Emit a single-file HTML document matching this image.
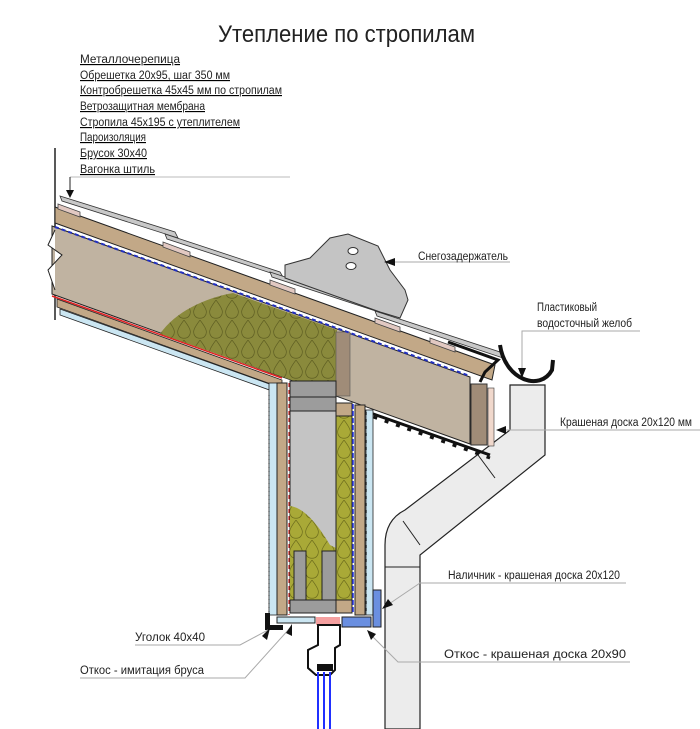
<!DOCTYPE html>
<html><head><meta charset="utf-8"><style>
html,body{margin:0;padding:0;background:#fff}
svg{display:block}
text{font-family:"Liberation Sans",sans-serif;fill:#222}
.l{font-size:11.5px}
</style></head><body>
<svg width="700" height="729" viewBox="0 0 700 729" xmlns="http://www.w3.org/2000/svg">
<defs>
<pattern id="wool" width="16" height="20" patternUnits="userSpaceOnUse">
<rect width="16" height="20" fill="#8a8a3c"/>
<path d="M8 0 C2 8 0 12 3 16 C5 19 11 19 13 16 C16 12 14 8 8 0" fill="none" stroke="#5e5e22" stroke-width="0.7"/>
</pattern>
<pattern id="wool2" width="16" height="20" patternUnits="userSpaceOnUse">
<rect width="16" height="20" fill="#a9a937"/>
<path d="M8 0 C2 8 0 12 3 16 C5 19 11 19 13 16 C16 12 14 8 8 0" fill="none" stroke="#6d6d1c" stroke-width="0.7"/>
</pattern>
</defs>

<text x="218" y="42" style="font-size:24px" textLength="257" lengthAdjust="spacingAndGlyphs">Утепление по стропилам</text>
<g class="l" text-decoration="underline">
<text x="80" y="63" textLength="100" lengthAdjust="spacingAndGlyphs">Металлочерепица</text>
<text x="80" y="79" textLength="150" lengthAdjust="spacingAndGlyphs">Обрешетка 20х95, шаг 350 мм</text>
<text x="80" y="94" textLength="202" lengthAdjust="spacingAndGlyphs">Контробрешетка 45х45 мм по стропилам</text>
<text x="80" y="110" textLength="125" lengthAdjust="spacingAndGlyphs">Ветрозащитная мембрана</text>
<text x="80" y="126" textLength="160" lengthAdjust="spacingAndGlyphs">Стропила 45х195 с утеплителем</text>
<text x="80" y="141" textLength="66" lengthAdjust="spacingAndGlyphs">Пароизоляция</text>
<text x="80" y="157" textLength="67" lengthAdjust="spacingAndGlyphs">Брусок 30х40</text>
<text x="80" y="173" textLength="75" lengthAdjust="spacingAndGlyphs">Вагонка штиль</text>
</g>
<line x1="70" y1="177" x2="290" y2="177" stroke="#bbb" stroke-width="1"/>
<polyline points="70,177 70,195" fill="none" stroke="#222"/>
<polygon points="66,190 74,190 70,198" fill="#111"/>
<line x1="55" y1="148" x2="55" y2="320" stroke="#222" stroke-width="1.5"/>

<path d="M510,385 L545,385 L545,455 L420,555 L420,729 L385,729 L385,545 Q385,520 405,510 L510,430 Z" fill="#ececec" stroke="#222" stroke-width="1.2"/>
<line x1="510" y1="430" x2="545" y2="430" stroke="#222"/>
<line x1="478" y1="455" x2="495" y2="478" stroke="#222"/>
<line x1="385" y1="567" x2="420" y2="567" stroke="#222"/>
<line x1="403" y1="521" x2="420" y2="545" stroke="#222"/>

<polygon points="52,226 470,377 470,444 280,376 52,294" fill="#c0b3a1" stroke="#222" stroke-width="1"/>
<path d="M160,334 C175,312 205,298 233,293 L337,330 L337,396 L280,376 Z" fill="url(#wool)"/>
<rect x="336" y="332" width="14" height="64" fill="#a08c78" stroke="#555" stroke-width="0.6"/>
<polyline points="55,230 48,245 62,255 48,270 55,290" fill="#fff" stroke="#222"/>
<line x1="55" y1="227" x2="470" y2="376" stroke="#2230c0" stroke-width="2" stroke-dasharray="4,3"/>
<polygon points="55,207 495,365 492,380 55,223" fill="#c2a887" stroke="#222"/>
<g fill="#e2c9c2" stroke="#444" stroke-width="0.8">
<polygon points="58,204 80,212 80,217 58,209"/>
<polygon points="163,242 190,252 190,257 163,247"/>
<polygon points="270,280 295,289 295,294 270,285"/>
<polygon points="375,318 400,327 400,332 375,323"/>
<polygon points="430,338 455,347 455,352 430,343"/>
</g>
<g fill="#c8c8c8" stroke="#333" stroke-width="0.8">
<polygon points="60,196 175,232 178,238 62,201"/>
<polygon points="165,234 280,272 283,277 167,239"/>
<polygon points="270,272 385,310 388,315 272,277"/>
<polygon points="375,311 500,352 503,358 377,316"/>
</g>
<path d="M448,342 L498,360 L485,372 L480,382" fill="none" stroke="#111" stroke-width="3"/>
<path d="M285,265 L310,258 L330,238 L348,234 L378,246 L390,270 L405,290 L408,300 L400,318 L380,312 L285,278 Z" fill="#c4c4c4" stroke="#333" stroke-width="1"/>
<ellipse cx="353" cy="251" rx="5" ry="3.5" fill="#fff" stroke="#333"/>
<ellipse cx="351" cy="266" rx="5" ry="3.5" fill="#fff" stroke="#333"/>
<rect x="471" y="384" width="16" height="61" fill="#a08c78" stroke="#333"/>
<rect x="488" y="388" width="6" height="58" fill="#f0d8cc" stroke="#333" stroke-width="0.6"/>
<path d="M362,410 L490,455" stroke="#111" stroke-width="3"/>
<path d="M362,413 L490,458" stroke="#111" stroke-width="3" stroke-dasharray="4,8"/>
<path d="M500,345 C505,380 540,392 552,370 L553,360" fill="none" stroke="#111" stroke-width="4"/>

<line x1="52" y1="296" x2="282" y2="378" stroke="#e02020" stroke-width="1.5"/>
<polygon points="57,299 282,380 282,388 57,307" fill="#c2a887" stroke="#222" stroke-width="0.8"/>
<polygon points="60,309 275,386 275,392 60,315" fill="#cbe6f2" stroke="#222" stroke-width="0.8"/>

<rect x="269" y="383" width="8" height="232" fill="#cbe6f2" stroke="#222" stroke-width="0.8"/>
<rect x="277" y="383" width="10" height="232" fill="#c2a887" stroke="#222"/>
<line x1="289" y1="383" x2="289" y2="615" stroke="#d02020" stroke-width="1.2" stroke-dasharray="4,3"/>
<rect x="290" y="381" width="46" height="232" fill="#c4c4c4" stroke="#222"/>
<path d="M290,506 C305,508 318,525 330,545 L336,548 L336,600 L290,600 Z" fill="url(#wool2)"/>
<rect x="290" y="381" width="46" height="16" fill="#9c9c9c" stroke="#222"/>
<rect x="290" y="397" width="46" height="14" fill="#9c9c9c" stroke="#222"/>
<rect x="294" y="551" width="12" height="50" fill="#9c9c9c" stroke="#222"/>
<rect x="322" y="551" width="14" height="50" fill="#9c9c9c" stroke="#222"/>
<rect x="290" y="600" width="46" height="13" fill="#9c9c9c" stroke="#222"/>
<rect x="336" y="416" width="16" height="184" fill="url(#wool2)" stroke="#222"/>
<rect x="336" y="403" width="16" height="13" fill="#c2a887" stroke="#222"/>
<rect x="336" y="600" width="16" height="13" fill="#c2a887" stroke="#222"/>
<line x1="353" y1="404" x2="353" y2="612" stroke="#2230e0" stroke-width="1.5" stroke-dasharray="5,2"/>
<rect x="355" y="405" width="10" height="210" fill="#c2a887" stroke="#222"/>
<rect x="366" y="410" width="7" height="205" fill="#cbe6f2" stroke="#222" stroke-width="0.8"/>
<line x1="269" y1="395" x2="269" y2="612" stroke="#222" stroke-width="1" stroke-dasharray="1,3"/>
<line x1="366" y1="412" x2="366" y2="612" stroke="#222" stroke-width="1.4" stroke-dasharray="3,4"/>

<path d="M265,630 L265,613 L270,613 L270,625 L283,625 L283,630 Z" fill="#111"/>
<rect x="277" y="617" width="38" height="6" fill="#cbe6f2" stroke="#222"/>
<rect x="316" y="617" width="24" height="8" fill="#f5a0a0"/>
<rect x="342" y="617" width="29" height="10" fill="#6a8fe0" stroke="#222"/>
<rect x="373" y="590" width="8" height="37" fill="#6a8fe0" stroke="#222"/>
<path d="M318,625 L340,625 L340,645 L335,648 L335,670 L330,675 L316,675 L308,668 L308,650 L318,645 Z" fill="#fff" stroke="#111" stroke-width="2"/>
<rect x="317" y="664" width="16" height="7" fill="#111"/>
<g stroke="#2030ff" stroke-width="2">
<line x1="318" y1="672" x2="318" y2="729"/><line x1="324" y1="672" x2="324" y2="729"/><line x1="330" y1="672" x2="330" y2="729"/>
</g>

<g stroke="#aaa" stroke-width="1" fill="none">
<polyline points="510,262 393,262"/>
<polyline points="640,331 522,331 522,372"/>
<polyline points="700,430 497,430"/>
<polyline points="626,583 420,583 386,606"/>
<polyline points="630,662 398,662 370,634"/>
<polyline points="135,645 240,645 268,630"/>
<polyline points="80,678 245,678 290,628"/>
</g>
<g fill="#111">
<polygon points="384,262 395,258 395,266"/>
<polygon points="522,378 518,368 526,368"/>
<polygon points="496,430 506,426 506,434"/>
<polygon points="382,609 388,599 393,605"/>
<polygon points="367,630 376,634 371,640"/>
<polygon points="270,628 262,636 267,640"/>
<polygon points="292,624 286,633 292,636"/>
</g>
<g class="l">
<text x="418" y="260" textLength="90" lengthAdjust="spacingAndGlyphs">Снегозадержатель</text>
<text x="537" y="311" textLength="60" lengthAdjust="spacingAndGlyphs">Пластиковый</text>
<text x="537" y="327" textLength="95" lengthAdjust="spacingAndGlyphs">водосточный желоб</text>
<text x="560" y="426" textLength="132" lengthAdjust="spacingAndGlyphs">Крашеная доска 20х120 мм</text>
<text x="448" y="579" textLength="172" lengthAdjust="spacingAndGlyphs">Наличник - крашеная доска 20х120</text>
<text x="444" y="658" textLength="182" lengthAdjust="spacingAndGlyphs">Откос - крашеная доска 20х90</text>
<text x="135" y="641" textLength="70" lengthAdjust="spacingAndGlyphs">Уголок 40х40</text>
<text x="80" y="674" textLength="124" lengthAdjust="spacingAndGlyphs">Откос - имитация бруса</text>
</g>
</svg>
</body></html>
